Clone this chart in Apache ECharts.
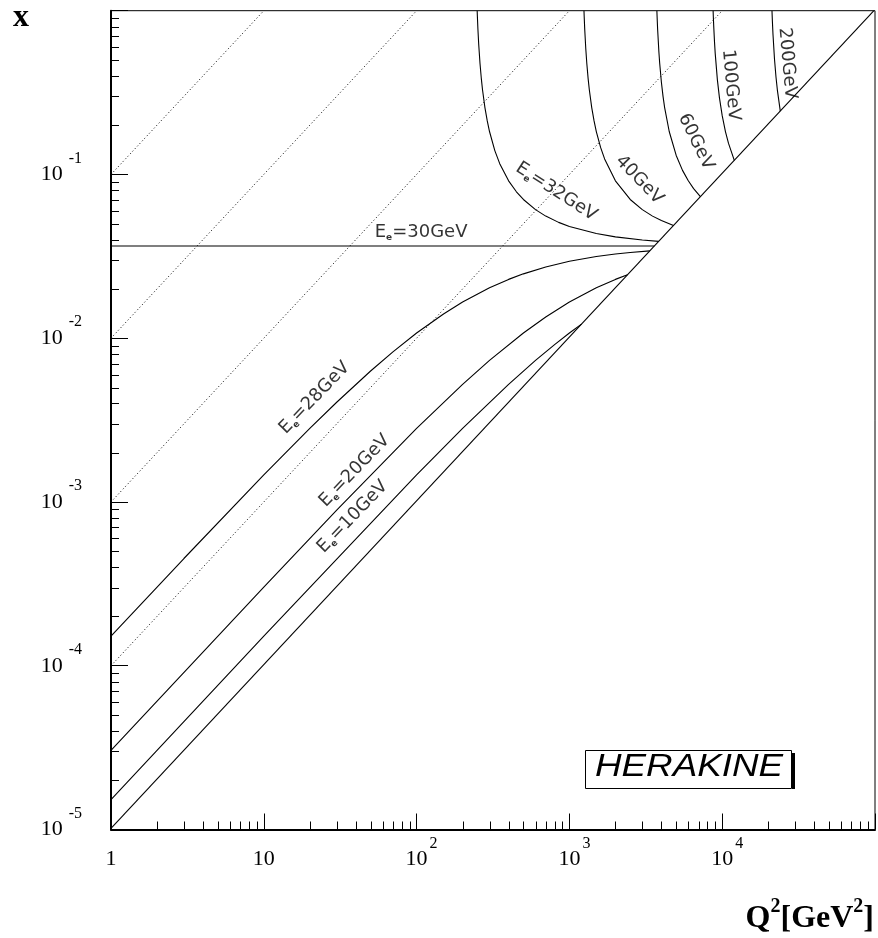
<!DOCTYPE html>
<html><head><meta charset="utf-8">
<script src="https://cdn.jsdelivr.net/npm/echarts@6/dist/echarts.min.js"></script>
<style>html,body{margin:0;padding:0;background:#fff}#c{width:878px;height:938px}</style>
</head><body><div id="c"></div>
<script>
// ---- data (Q^2 [GeV^2], x) ----
const curve10 = [[1,1.524e-5],[10,1.518e-4],[100,1.463e-3],[200,2.814e-3],[400,5.226e-3],[600,7.317e-3],[800,9.146e-3],[1000,0.01076],[1200,0.01220]];
const curve20 = [[1,3.046e-5],[10,3.024e-4],[30,8.923e-4],[100,2.814e-3],[200,5.227e-3],[300,7.317e-3],[500,0.01076],[700,0.01348],[1000,0.01663],[1500,0.02033],[2000,0.02287],[2400,0.02439]];
const curve28 = [[1,1.518e-4],[3,4.517e-4],[10,1.463e-3],[20,2.814e-3],[30,4.065e-3],[50,6.308e-3],[70,8.261e-3],[100,0.01076],[150,0.01407],[200,0.01663],[300,0.02033],[400,0.02287],[500,0.02472],[700,0.02724],[1000,0.02950],[1500,0.03154],[2000,0.03267],[2500,0.03338],[3360,0.03415]];
const curve30 = [[1,0.03659],[3600,0.03659]];
const curve32 = [[249.1,1.0],[250,0.9146],[252,0.7683],[255,0.622],[260,0.4756],[265,0.3878],[270,0.3293],[280,0.2561],[290,0.2122],[300,0.1829],[325,0.1399],[350,0.1164],[400,0.09146],[450,0.0784],[500,0.07036],[600,0.06098],[700,0.05567],[850,0.05098],[1000,0.04814],[1500,0.04355],[2000,0.04157],[3000,0.03977],[3840,0.03902]];
const curve40 = [[1245.6,1.0],[1250,0.9146],[1260,0.7683],[1280,0.5854],[1300,0.4756],[1325,0.3878],[1350,0.3293],[1400,0.2561],[1450,0.2122],[1500,0.1829],[1600,0.1463],[1700,0.1244],[2000,0.09146],[2500,0.07036],[3000,0.06098],[3500,0.05567],[4000,0.05226],[4800,0.04878]];
const curve60 = [[3736.6,1.0],[3750,0.9146],[3780,0.7683],[3850,0.5634],[3900,0.4756],[4000,0.3659],[4100,0.3],[4200,0.2561],[4500,0.1829],[5000,0.1307],[5500,0.1059],[6000,0.09146],[6500,0.0820],[7200,0.07317]];
const curve100 = [[8719.5,1.0],[8750,0.9146],[8800,0.8049],[8900,0.6512],[9000,0.5488],[9300,0.378],[9600,0.2927],[10000,0.2287],[10500,0.1829],[11000,0.1548],[12000,0.1220]];
const curve200 = [[21174,1.0],[21300,0.8659],[21500,0.7151],[22000,0.503],[22500,0.392],[23000,0.3236],[24000,0.2439]];
const limitLine = [[1,1.016e-5],[98400,1]];
const dottedA = [[1,1e-4],[1e4,1]];
const dottedB = [[1,1e-3],[1e3,1]];
const dottedC = [[1,1e-2],[1e2,1]];
const dottedD = [[1,1e-1],[10,1]];

const labelTexts  = ['30GeV','28GeV','20GeV','10GeV','32GeV','40GeV','60GeV','100GeV','200GeV'];
const labelHasE   = [true,true,true,true,true,false,false,false,false];
const labelQ2     = [107,21.5,39.3,38.2,819,2870,6730,11400,26700];
const labelX      = [0.0446,0.00432,0.00155,0.000811,0.0785,0.0925,0.1585,0.352,0.4775];
const labelAngle  = [0,46,46,46,-33,-46,-64,-85,-85];

const xMinorMantissa = [2,3,4,5,6,7,8,9];
const xDecades = [1,10,100,1000,10000];
const yDecades = [1e-5,1e-4,1e-3,1e-2,1e-1];

// ---- build ----
const chart = echarts.init(document.getElementById('c'), null, {renderer:'canvas'});
const xMinor = [], yMinor = [];
xDecades.forEach(d => xMinorMantissa.forEach(m => xMinor.push([m*d, 1e-5])));
yDecades.forEach(d => xMinorMantissa.forEach(m => yMinor.push([1, m*d])));

function solid(data){ return {type:'line', data, symbol:'none', showSymbol:false, animation:false, silent:true, z:3,
  lineStyle:{color:'#000', width:1.1}}; }
function dotted(data){ return {type:'line', data, symbol:'none', showSymbol:false, animation:false, silent:true, z:2,
  lineStyle:{color:'#000', width:1, type:[1,2.5]}}; }

const serif = '"Liberation Serif", "Times New Roman", serif';
const tickRich = {
  b:{fontFamily:serif, fontSize:22, lineHeight:48, color:'#000'},
  s:{fontFamily:serif, fontSize:16, lineHeight:16, padding:[0,0,32,6], color:'#000'},
  t:{fontFamily:serif, fontSize:16, lineHeight:16, padding:[0,0,32,2], color:'#000'},
  p:{fontFamily:serif, fontSize:16, lineHeight:16, width:10}
};

const labelData = labelTexts.map((t,i) => ({
  value:[labelQ2[i], labelX[i]],
  label:{rotate:labelAngle[i], formatter: labelHasE[i] ? '{m|E}{sub|e}{m|=' + t + '}' : '{m|' + t + '}'}
}));

const option = {
  animation:false,
  backgroundColor:'#fff',
  grid:{left:111, right:1.5, top:10.7, bottom:108.5, containLabel:false, show:true, borderColor:'#000', borderWidth:1, backgroundColor:'transparent'},
  xAxis:{type:'log', logBase:10, min:1, max:1e5,
    axisLine:{show:true, onZero:false, lineStyle:{color:'#000', width:2}},
    axisTick:{show:true, inside:true, length:16, lineStyle:{color:'#000', width:1}},
    splitLine:{show:false}, minorTick:{show:false},
    axisLabel:{margin:6, rich:tickRich, formatter:function(v){
      const e = Math.round(Math.log10(v));
      if (e === 0) return '{b|1}';
      if (e === 1) return '{b|10}';
      if (e >= 5) return '';
      return '{p| }{b|10}{t|' + e + '}';
    }}
  },
  yAxis:{type:'log', logBase:10, min:1e-5, max:1,
    axisLine:{show:true, onZero:false, lineStyle:{color:'#000', width:2}},
    axisTick:{show:true, inside:true, length:17, lineStyle:{color:'#000', width:1}},
    splitLine:{show:false}, minorTick:{show:false},
    axisLabel:{margin:29, rich:tickRich, formatter:function(v){
      const e = Math.round(Math.log10(v));
      if (e === 0) return '';
      return '{b|10}{s|' + e + '}';
    }}
  },
  series:[
    dotted(dottedA), dotted(dottedB), dotted(dottedC), dotted(dottedD),
    solid(limitLine), solid(curve10), solid(curve20), solid(curve28), solid(curve30),
    solid(curve32), solid(curve40), solid(curve60), solid(curve100), solid(curve200),
    {type:'custom', coordinateSystem:'cartesian2d', data:xMinor, silent:true, clip:false, z:5,
      renderItem:function(params, api){
        const p = api.coord([api.value(0), api.value(1)]);
        const x = Math.round(p[0]) + 0.5;
        return {type:'line', shape:{x1:x, y1:p[1], x2:x, y2:p[1]-8}, style:{stroke:'#000', lineWidth:1}};
      }},
    {type:'custom', coordinateSystem:'cartesian2d', data:yMinor, silent:true, clip:false, z:5,
      renderItem:function(params, api){
        const p = api.coord([api.value(0), api.value(1)]);
        const y = Math.round(p[1]) + 0.5;
        return {type:'line', shape:{x1:p[0], y1:y, x2:p[0]+8, y2:y}, style:{stroke:'#000', lineWidth:1}};
      }},
    {type:'scatter', data:labelData, symbolSize:0.1, itemStyle:{color:'transparent'}, silent:true, z:6,
      label:{show:true, position:'inside', color:'#000',
        rich:{
          m:{fontFamily:'"DejaVu Sans", sans-serif', fontSize:18, lineHeight:20, color:'#000'},
          sub:{fontFamily:'"DejaVu Sans", sans-serif', fontSize:9, fontWeight:'bold', lineHeight:10, verticalAlign:'bottom', color:'#000'}
        }}}
  ],
  graphic:[
    {type:'text', x:21, y:18, style:{text:'x', font:'bold 32px "Liberation Serif"', fill:'#000', align:'center', verticalAlign:'middle'}},
    {type:'text', x:874, y:919, style:{text:'{b|Q}{s|2}{b|[GeV}{s|2}{b|]}', align:'right', verticalAlign:'middle',
      rich:{
        b:{fontFamily:serif, fontWeight:'bold', fontSize:32, lineHeight:44, fill:'#000', color:'#000'},
        s:{fontFamily:serif, fontWeight:'bold', fontSize:20, lineHeight:20, padding:[0,0,24,0], fill:'#000', color:'#000'}
      }}},
    {type:'rect', shape:{x:792, y:753, width:3, height:36}, style:{fill:'#000'}, z:10},
    {type:'rect', shape:{x:585.5, y:750.5, width:206, height:38}, style:{fill:'#fff', stroke:'#000', lineWidth:1}, z:11},
    {type:'text', x:689, y:767, scaleX:1.15, z:12,
      style:{text:'HERAKINE', font:'italic 32px "Liberation Sans"', fill:'#000', align:'center', verticalAlign:'middle'}}
  ]
};
chart.setOption(option);
</script>
</body></html>
